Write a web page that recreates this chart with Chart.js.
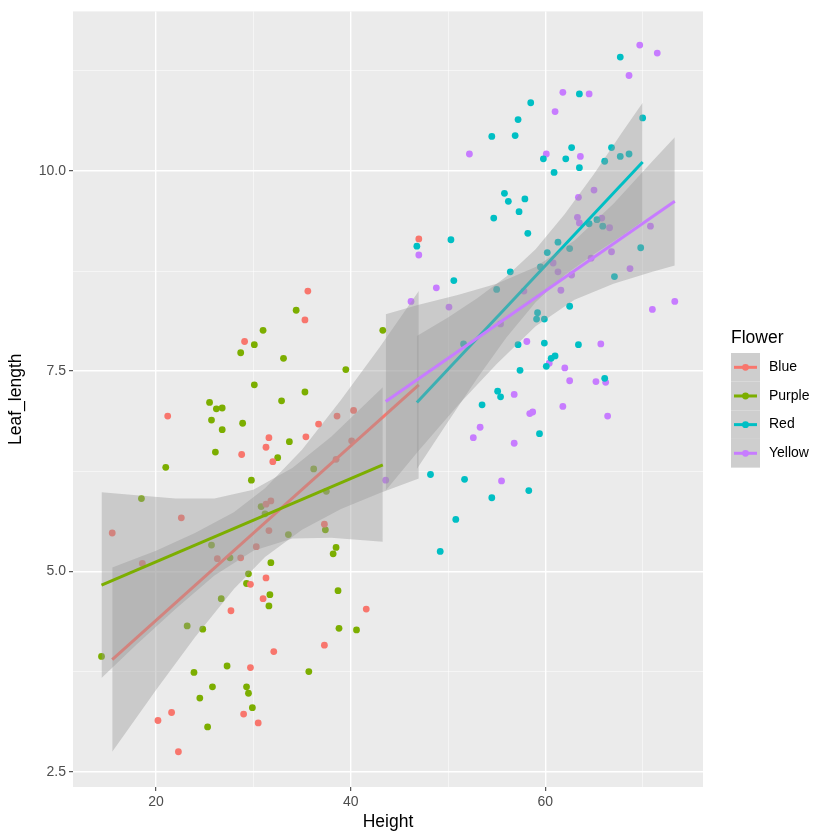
<!DOCTYPE html>
<html>
<head>
<meta charset="utf-8">
<script src="https://cdn.jsdelivr.net/npm/chart.js@4.4.1/dist/chart.umd.min.js"></script>
<style>
  html, body { margin: 0; padding: 0; background: #fff; }
</style>
</head>
<body>
<canvas id="leafChart" width="840" height="840"></canvas>
<script>
// leaf length vs height, one colour per flower

const flowers = ['Blue', 'Purple', 'Red', 'Yellow'];
const flowerColors = ['#F8766D', '#7CAE00', '#00BFC4', '#C77CFF'];

const blueX = [15.5, 21.2, 22.6, 35.6, 35.3, 29.1, 31.6, 31.3, 28.8, 32.0, 36.7, 38.6, 40.3, 40.1, 35.4, 38.5,
  37.3, 31.8, 31.3, 31.6, 30.3, 18.6, 26.3, 28.7, 29.7, 31.3, 27.7, 31.0, 41.6, 37.3, 32.1, 29.7,
  21.6, 20.2, 29.0, 30.5, 22.3, 47.0];
const blueY = [5.48, 6.94, 5.67, 8.50, 8.14, 7.87, 6.67, 6.55, 6.46, 6.37, 6.84, 6.94, 7.01, 6.63, 6.68, 6.40,
  5.59, 5.88, 5.84, 5.51, 5.31, 5.10, 5.16, 5.17, 4.84, 4.92, 4.51, 4.66, 4.53, 4.08, 4.00, 3.80,
  3.24, 3.14, 3.22, 3.11, 2.75, 9.15];

const purpleX = [34.4, 31.0, 30.1, 28.7, 33.1, 39.5, 43.3, 30.1, 35.3, 32.9, 28.9, 33.7, 32.5, 36.2, 29.8, 37.5,
  30.8, 31.2, 25.5, 26.2, 26.8, 25.7, 26.8, 26.1, 21.0, 18.5, 25.7, 27.6, 29.5, 29.3, 26.7, 23.2,
  24.8, 14.4, 23.9, 27.3, 25.8, 24.5, 29.3, 29.5, 25.3, 29.9, 37.4, 33.6, 38.5, 38.2, 31.8, 38.7,
  31.7, 31.6, 38.8, 40.6, 35.7];
const purpleY = [8.26, 8.01, 7.83, 7.73, 7.66, 7.52, 8.01, 7.33, 7.24, 7.13, 6.85, 6.62, 6.42, 6.28, 6.14, 6.00,
  5.81, 5.72, 7.11, 7.03, 7.04, 6.89, 6.77, 6.49, 6.30, 5.91, 5.33, 5.17, 4.97, 4.85, 4.66, 4.32,
  4.28, 3.94, 3.74, 3.82, 3.56, 3.42, 3.56, 3.48, 3.06, 3.30, 5.52, 5.46, 5.30, 5.22, 5.11, 4.76,
  4.71, 4.57, 4.29, 4.27, 3.75];

const redX = [58.5, 57.2, 54.5, 56.9, 55.8, 56.2, 57.9, 57.3, 54.7, 58.2, 50.3, 46.8, 56.4, 50.6, 55.0, 67.7,
  63.5, 70.0, 62.7, 66.8, 59.8, 62.1, 67.7, 68.6, 66.1, 60.9, 63.5, 64.5, 65.3, 65.9, 61.3, 60.2,
  62.5, 69.8, 59.5, 67.1, 59.2, 59.1, 59.9, 62.5, 51.6, 57.2, 57.4, 55.1, 55.4, 53.5, 59.4, 48.2,
  51.7, 54.5, 58.3, 50.8, 49.2, 59.9, 63.4, 61.0, 60.6, 60.1, 66.1];
const redY = [10.85, 10.64, 10.43, 10.44, 9.72, 9.62, 9.65, 9.49, 9.41, 9.22, 9.14, 9.06, 8.74, 8.63, 8.52, 11.42,
  10.96, 10.66, 10.29, 10.29, 10.15, 10.15, 10.18, 10.21, 10.12, 9.98, 10.04, 9.34, 9.39, 9.31, 9.11, 8.98,
  9.03, 9.04, 8.80, 8.68, 8.23, 8.15, 8.15, 8.31, 7.84, 7.83, 7.51, 7.25, 7.18, 7.08, 6.72, 6.21,
  6.15, 5.92, 6.01, 5.65, 5.25, 7.85, 7.83, 7.69, 7.66, 7.56, 7.41];

const yellowX = [52.2, 47.0, 48.8, 46.2, 69.7, 71.5, 68.6, 61.8, 64.5, 61.0, 60.1, 63.6, 63.4, 65.0, 63.3, 63.5,
  65.8, 66.6, 70.8, 66.8, 64.7, 60.8, 61.3, 62.7, 68.7, 61.6, 73.3, 50.1, 55.4, 58.1, 56.8, 58.4,
  58.7, 53.3, 52.6, 56.8, 43.6, 55.5, 71.0, 65.7, 60.4, 62.0, 62.5, 65.2, 66.2, 61.8, 66.4, 57.8];
const yellowY = [10.21, 8.95, 8.54, 8.37, 11.57, 11.47, 11.19, 10.98, 10.96, 10.74, 10.21, 10.18, 9.67, 9.76, 9.42, 9.35,
  9.41, 9.29, 9.31, 8.99, 8.91, 8.85, 8.74, 8.70, 8.78, 8.51, 8.37, 8.30, 8.09, 7.87, 7.21, 6.97,
  6.99, 6.80, 6.67, 6.60, 6.14, 6.13, 8.27, 7.84, 7.60, 7.54, 7.38, 7.37, 7.36, 7.06, 6.94, 8.50];

// fitted lines, read at their two ends
const blueLineX = [15.5, 47.0];
const blueLineY = [3.90, 7.33];
const purpleLineX = [14.4, 43.3];
const purpleLineY = [4.83, 6.33];
const redLineX = [46.8, 70.0];
const redLineY = [7.11, 10.11];
const yellowLineX = [43.6, 73.3];
const yellowLineY = [7.12, 9.62];

// confidence bands
const blueBandX = [15.5, 20, 24, 28, 31.2, 35, 39, 43, 47.0];
const blueBandLow = [2.75, 3.52, 4.18, 4.78, 5.18, 5.52, 5.78, 5.98, 6.16];
const blueBandHigh = [5.05, 5.26, 5.48, 5.74, 6.04, 6.52, 7.14, 7.80, 8.50];
const purpleBandX = [14.4, 18, 22, 26, 30, 34, 38, 43.3];
const purpleBandLow = [3.67, 4.09, 4.53, 4.95, 5.26, 5.41, 5.42, 5.37];
const purpleBandHigh = [5.99, 5.95, 5.91, 5.91, 6.02, 6.29, 6.68, 7.30];
const redBandX = [46.8, 50, 53, 56, 59, 62, 65, 68, 70.0];
const redBandLow = [6.28, 6.87, 7.41, 7.92, 8.36, 8.70, 8.96, 9.20, 9.37];
const redBandHigh = [7.94, 8.17, 8.41, 8.68, 9.02, 9.46, 9.96, 10.50, 10.85];
const yellowBandX = [43.6, 47, 51, 55, 59, 63, 67, 71, 73.3];
const yellowBandLow = [6.01, 6.51, 7.07, 7.59, 8.06, 8.39, 8.59, 8.74, 8.82];
const yellowBandHigh = [8.21, 8.33, 8.45, 8.59, 8.80, 9.13, 9.59, 10.12, 10.42];

const xMajor = [20, 40, 60];
const xTicks = [20, 30, 40, 50, 60, 70];
const yMajor = [2.5, 5, 7.5, 10];
const yTicks = [2.5, 3.75, 5, 6.25, 7.5, 8.75, 10, 11.25];

const pointSets = [[blueX, blueY], [purpleX, purpleY], [redX, redY], [yellowX, yellowY]];
const lineSets = [[blueLineX, blueLineY], [purpleLineX, purpleLineY], [redLineX, redLineY], [yellowLineX, yellowLineY]];
const bandSets = [
  [blueBandX, blueBandLow, blueBandHigh],
  [purpleBandX, purpleBandLow, purpleBandHigh],
  [redBandX, redBandLow, redBandHigh],
  [yellowBandX, yellowBandLow, yellowBandHigh]
];

const BAND_FILL = 'rgba(153,153,153,0.4)';
const FONT = '"Liberation Sans", Arial, sans-serif';

function toXY(xs, ys) {
  return xs.map((x, i) => ({ x, y: ys[i] }));
}

const datasets = [];

// points go underneath everything
pointSets.forEach(([xs, ys], i) => {
  datasets.push({
    type: 'scatter',
    label: flowers[i],
    data: toXY(xs, ys),
    backgroundColor: flowerColors[i],
    borderWidth: 0,
    pointRadius: 3.4,
    pointHoverRadius: 3.4,
    order: 20
  });
});

// ribbon then line, group by group (later groups on top)
bandSets.forEach(([xs, lo, hi], i) => {
  const ord = 9 - i * 2;
  datasets.push({
    type: 'line',
    label: flowers[i] + ' low',
    data: toXY(xs, lo),
    borderColor: 'rgba(0,0,0,0)',
    borderWidth: 0,
    pointRadius: 0,
    fill: false,
    order: ord
  });
  datasets.push({
    type: 'line',
    label: flowers[i] + ' high',
    data: toXY(xs, hi),
    borderColor: 'rgba(0,0,0,0)',
    borderWidth: 0,
    pointRadius: 0,
    backgroundColor: BAND_FILL,
    fill: '-1',
    order: ord
  });
  datasets.push({
    type: 'line',
    label: flowers[i] + ' fit',
    data: toXY(lineSets[i][0], lineSets[i][1]),
    borderColor: flowerColors[i],
    borderWidth: 3,
    pointRadius: 0,
    fill: false,
    order: ord - 1
  });
});

const panelBg = {
  id: 'panelBg',
  beforeDraw(chart) {
    const { ctx, chartArea: a } = chart;
    ctx.save();
    ctx.fillStyle = '#EBEBEB';
    ctx.fillRect(a.left, a.top, a.right - a.left, a.bottom - a.top);
    ctx.restore();
  }
};

// ggplot style legend on the right
const sideLegend = {
  id: 'sideLegend',
  afterDraw(chart) {
    const ctx = chart.ctx;
    const left = 731, top = 353, keyW = 29, keyH = 28.65;
    ctx.save();
    ctx.fillStyle = '#000';
    ctx.font = '17.5px ' + FONT;
    ctx.textBaseline = 'alphabetic';
    ctx.textAlign = 'left';
    ctx.fillText('Flower', left, 343);

    flowers.forEach((name, i) => {
      const y0 = top + i * keyH;
      const cy = y0 + keyH / 2;
      ctx.fillStyle = '#F2F2F2';
      ctx.fillRect(left, y0, keyW, keyH);
      ctx.fillStyle = BAND_FILL;
      ctx.fillRect(left, y0, keyW, keyH);

      ctx.strokeStyle = flowerColors[i];
      ctx.lineWidth = 3;
      ctx.beginPath();
      ctx.moveTo(left + 3, cy);
      ctx.lineTo(left + keyW - 3, cy);
      ctx.stroke();

      ctx.fillStyle = flowerColors[i];
      ctx.beginPath();
      ctx.arc(left + keyW / 2, cy, 3.4, 0, Math.PI * 2);
      ctx.fill();

      ctx.fillStyle = '#000';
      ctx.font = '14px ' + FONT;
      ctx.textBaseline = 'middle';
      ctx.fillText(name, 769, cy);
    });
    ctx.restore();
  }
};

function gridStyle(majors) {
  return {
    color: c => majors.includes(c.tick.value) ? '#FFFFFF' : 'rgba(255,255,255,0.75)',
    lineWidth: c => majors.includes(c.tick.value) ? 1.4 : 0.7,
    tickColor: c => majors.includes(c.tick.value) ? '#333333' : 'rgba(0,0,0,0)',
    tickWidth: 1,
    tickLength: 4,
    drawTicks: true
  };
}

new Chart(document.getElementById('leafChart'), {
  data: { datasets },
  options: {
    responsive: false,
    animation: false,
    layout: { padding: { top: 10, right: 137, left: 0, bottom: 0 } },
    plugins: {
      legend: { display: false },
      tooltip: { enabled: false }
    },
    scales: {
      x: {
        type: 'linear',
        min: 11.47,
        max: 76.2,
        border: { display: false },
        grid: gridStyle(xMajor),
        afterBuildTicks: s => { s.ticks = xTicks.map(v => ({ value: v })); },
        afterFit: s => { s.height = 53; },
        ticks: {
          autoSkip: false,
          maxRotation: 0,
          padding: 3,
          color: '#4D4D4D',
          font: { family: FONT, size: 14 },
          callback: v => xMajor.includes(v) ? String(v) : ''
        },
        title: {
          display: true,
          text: 'Height',
          color: '#000',
          font: { family: FONT, size: 17.5 },
          padding: { top: 0, bottom: 7.5 }
        }
      },
      y: {
        type: 'linear',
        min: 2.31,
        max: 11.99,
        border: { display: false },
        grid: gridStyle(yMajor),
        afterBuildTicks: s => { s.ticks = yTicks.map(v => ({ value: v })); },
        afterFit: s => { s.width = 73; },
        ticks: {
          autoSkip: false,
          padding: 3,
          color: '#4D4D4D',
          font: { family: FONT, size: 14 },
          callback: v => yMajor.includes(v) ? v.toFixed(1) : ''
        },
        title: {
          display: true,
          text: 'Leaf_length',
          color: '#000',
          font: { family: FONT, size: 17.5 },
          padding: { top: 5.5, bottom: 0 }
        }
      }
    }
  },
  plugins: [panelBg, sideLegend]
});
</script>
</body>
</html>
